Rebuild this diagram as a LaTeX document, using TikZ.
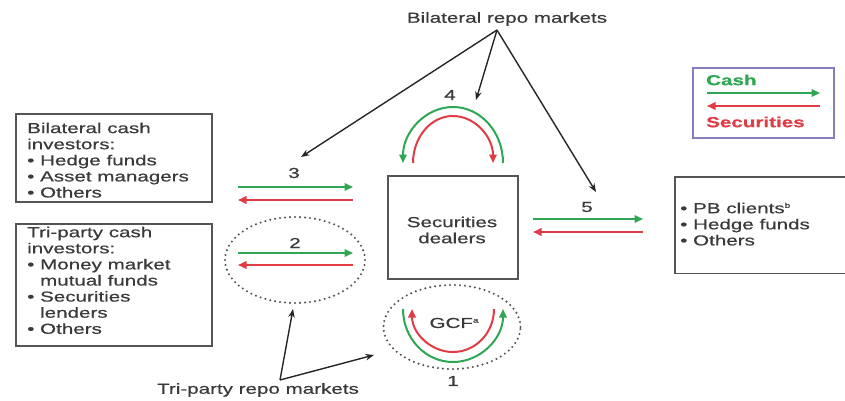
\documentclass[tikz,border=0pt]{standalone}
\usepackage{fontspec}
\setmainfont{Liberation Sans}[FakeStretch=1.42,FakeBold=0.6]
\usetikzlibrary{arrows.meta,shapes.geometric}
\definecolor{cgreen}{HTML}{2FA653}
\definecolor{cred}{HTML}{E03C46}
\definecolor{txt}{HTML}{3A3A3A}
\definecolor{lpurple}{HTML}{8A7CC0}
\definecolor{boxgray}{HTML}{555555}
\newcommand\supr[1]{\raisebox{0.7ex}[0pt][0pt]{\fontsize{7}{7}\selectfont #1}}
\begin{document}
\begin{tikzpicture}[x=1pt,y=-1pt,
  every node/.style={font=\fontsize{14.5}{16.1}\selectfont, text=txt, inner sep=0pt},
  box/.style={draw=boxgray, line width=1.6pt, rectangle, anchor=north west},
  listtext/.style={anchor=north west, align=left},
  cashar/.style={draw=cgreen, line width=2pt, -{Triangle[length=8.5pt,width=7.5pt]}},
  secar/.style={draw=cred, line width=2pt, -{Triangle[length=8.5pt,width=7.5pt]}},
  pointer/.style={draw=black!85, line width=1.4pt, -{Stealth[length=8.5pt,width=6.5pt]}},
  market/.style={draw=gray!65!black, line width=2.3pt, dash pattern=on 0pt off 5pt, line cap=round, ellipse},
]
\useasboundingbox (0,0) rectangle (845,401);

% --- boxes ---
\node[box, minimum width=196pt, minimum height=88pt] (bil) at (15,113) {};
\node[listtext] (bilt) at (27,122.4) {Bilateral cash\\investors:\\• Hedge funds\\• Asset managers\\• Others};

\node[box, minimum width=196pt, minimum height=122pt] (tri) at (15,223) {};
\node[listtext] (trit) at (27,226.5) {Tri-party cash\\investors:\\• Money market\\\hphantom{• }mutual funds\\• Securities\\\hphantom{• }lenders\\• Others};

\node[box, minimum width=130pt, minimum height=103pt] (dealer) at (387,175) {};
\node[align=center] (dealert) at (452,230) {Securities\\dealers};

\node[minimum width=172pt, minimum height=96pt, anchor=north west] (pb) at (675,177) {};
\draw[boxgray, line width=1.6pt] (pb.north east) -- (pb.north west) -- (pb.south west) -- (pb.south east);
\node[listtext] (pbt) at (680,202.5) {• PB clients\supr{b}\\• Hedge funds\\• Others};

% --- legend ---
\node[box, draw=lpurple, minimum width=141pt, minimum height=70pt] (leg) at (692,67) {};
\node[anchor=west, text=cgreen, font=\fontsize{14.5}{16}\selectfont\bfseries] (legc) at (706,80) {Cash};
\node[anchor=west, text=cred, font=\fontsize{14.5}{16}\selectfont\bfseries] (legs) at (706,122) {Securities};
\coordinate (lg1) at (707,93); \coordinate (lg2) at (820,93);
\coordinate (lr1) at (820,106); \coordinate (lr2) at (707,106);
\draw[cashar] (lg1) -- (lg2);
\draw[secar] (lr1) -- (lr2);

% --- market labels ---
\node (brm) at (507,19) {Bilateral repo markets};
\coordinate (brmo) at (497,30);
\node (trm) at (258,390) {Tri-party repo markets};
\coordinate (trmo) at (280,380);

% --- dotted tri-party circles ---
\node[market, minimum width=140pt, minimum height=86pt] (c2) at (295,260) {};
\node[market, minimum width=137pt, minimum height=84pt] (c1) at (452,327) {};

% --- flow 3 ---
\node (n3) at (294,173) {3};
\coordinate (a3g1) at (238,187); \coordinate (a3g2) at (353,187);
\coordinate (a3r1) at (353,200); \coordinate (a3r2) at (238,200);
\draw[cashar] (a3g1) -- (a3g2);
\draw[secar] (a3r1) -- (a3r2);

% --- flow 2 ---
\node (n2) at (295,243) {2};
\coordinate (a2g1) at (238,253); \coordinate (a2g2) at (353,253);
\coordinate (a2r1) at (353,265); \coordinate (a2r2) at (238,265);
\draw[cashar] (a2g1) -- (a2g2);
\draw[secar] (a2r1) -- (a2r2);

% --- flow 5 ---
\node (n5) at (587,207) {5};
\coordinate (a5g1) at (533,219); \coordinate (a5g2) at (643,219);
\coordinate (a5r1) at (643,232); \coordinate (a5r2) at (533,232);
\draw[cashar] (a5g1) -- (a5g2);
\draw[secar] (a5r1) -- (a5r2);

% --- flow 4 (arc over dealers) ---
\node (n4) at (450,95) {4};
\coordinate (a4g) at (503,163);
\coordinate (a4r) at (413,163);
\draw[cashar] (a4g) arc[start angle=0, end angle=-180, x radius=50, y radius=56];
\draw[secar] (a4r) arc[start angle=180, end angle=360, x radius=40, y radius=47];

% --- flow 1 (GCF) ---
\node (gcf) at (454,323) {GCF\supr{a}};
\node (n1) at (453,381) {1};
\coordinate (a1g) at (403,309);
\coordinate (a1r) at (494,309);
\draw[cashar] (a1g) arc[start angle=180, end angle=0, x radius=50, y radius=53];
\draw[secar] (a1r) arc[start angle=0, end angle=180, x radius=41, y radius=43];

% --- pointers ---
\coordinate (p3) at (301,157);
\coordinate (p4) at (476,100);
\coordinate (p5) at (596,192);
\coordinate (p2) at (293,309);
\coordinate (p1) at (374,355);
\draw[pointer] (brmo) -- (p3);
\draw[pointer] (brmo) -- (p4);
\draw[pointer] (brmo) -- (p5);
\draw[pointer] (trmo) -- (p2);
\draw[pointer] (trmo) -- (p1);
\end{tikzpicture}
\end{document}
